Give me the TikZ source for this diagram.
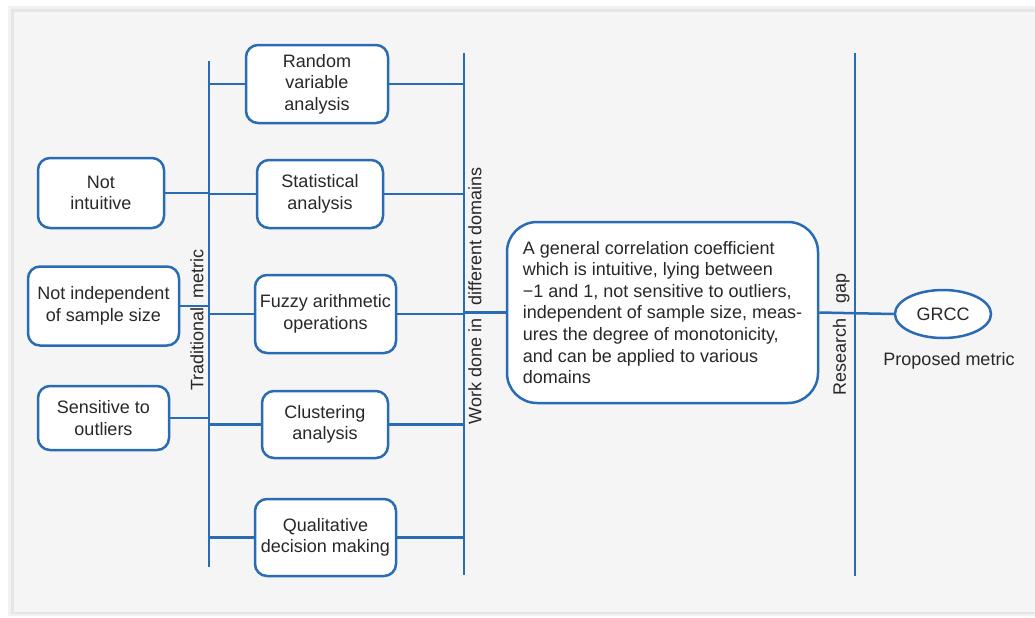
\documentclass[tikz,border=0pt]{standalone}
\usepackage{fontspec}
\setmainfont{Liberation Sans}
\usepackage{tikz}
\usetikzlibrary{positioning, shapes.geometric}
\definecolor{lineblue}{RGB}{42,108,180}
\definecolor{panelgray}{RGB}{245,245,245}
\definecolor{textgray}{RGB}{40,40,40}
\tikzstyle{every node}=[font=\fontsize{9}{10.8}\selectfont, text=textgray]
\tikzstyle{block}=[draw=lineblue, fill=white, rectangle, rounded corners=6pt, line width=1.25pt, align=center, inner sep=1pt]
\tikzstyle{bar}=[draw=lineblue, line width=1.25pt]
\tikzstyle{vlabel}=[rotate=90, inner sep=1pt]

\begin{document}
\begin{tikzpicture}[x=0.5pt, y=-0.5pt]
            % panel with soft edge
            \useasboundingbox (0,0) rectangle (1035,617);
            \fill[white] (0,0) rectangle (1035,617);
            \fill[black!5] (8,6) rectangle (1035,616);
            \fill[black!10] (11,9) rectangle (1035,614);
            \fill[panelgray] (14,12) rectangle (1035,612);

            % the three bars
            \coordinate (tradtop) at (209,61);
            \coordinate (tradbot) at (209,567);
            \coordinate (worktop) at (464,53);
            \coordinate (workbot) at (464,575);
            \coordinate (gaptop) at (855,53);
            \coordinate (gapbot) at (855,576);
            \draw[bar] (tradtop) -- (tradbot);
            \draw[bar] (worktop) -- (workbot);
            \draw[bar] (gaptop) -- (gapbot);
            \node[vlabel, anchor=south] (trad) at (206,320) {Traditional\hspace{2pt} metric};
            \node[vlabel, anchor=north] (work) at (466,296) {Work done in\hspace{4pt} different domains};
            \node[vlabel, anchor=south] (gap) at (852,334) {Research\hspace{5pt} gap};

            % methods
            \node[block, minimum width=71pt, minimum height=39pt] (rva) at (317,84) {Random\\variable\\analysis};
            \node[block, minimum width=63pt, minimum height=34pt] (sta) at (320,194) {Statistical\\analysis};
            \node[block, minimum width=70.5pt, minimum height=39pt] (fao) at (325.5,314) {Fuzzy arithmetic\\operations};
            \node[block, minimum width=63pt, minimum height=33.5pt] (cla) at (325,424.5) {Clustering\\analysis};
            \node[block, minimum width=70.5pt, minimum height=38.5pt] (qdm) at (325.5,537.5) {Qualitative\\decision making};

            % drawbacks
            \node[block, minimum width=63pt, minimum height=35pt] (nin) at (101,193) {Not\\intuitive};
            \node[block, minimum width=75.5pt, minimum height=39.5pt] (nis) at (103.5,306) {Not independent\\of sample size};
            \node[block, minimum width=65.5pt, minimum height=32pt] (sto) at (103.5,418) {Sensitive to\\outliers};

            % gap and proposal
            \node[block, rounded corners=15pt, minimum width=155.5pt, minimum height=90.5pt, align=left] (gc) at (662.5,312.5) {A general correlation coefficient\\which is intuitive, lying between\\−1 and 1, not sensitive to outliers,\\independent of sample size, meas-\\ures the degree of monotonicity,\\and can be applied to various\\domains};
            \node[ellipse, draw=lineblue, fill=white, line width=1.25pt, minimum width=48pt, minimum height=24pt, inner sep=0pt] (grcc) at (943,314) {GRCC};
            \node[below=3pt of grcc, xshift=3pt] (pm) {Proposed metric};

            \draw[bar] (nin.east) -- (nin.east -| tradtop);
            \draw[bar] (nis.east) -- (nis.east -| tradtop);
            \draw[bar] (sto.east) -- (sto.east -| tradtop);
            \draw[bar] (rva.west -| tradtop) -- (rva.west);
            \draw[bar] (sta.west -| tradtop) -- (sta.west);
            \draw[bar] (fao.west -| tradtop) -- (fao.west);
            \draw[bar] (cla.west -| tradtop) -- (cla.west);
            \draw[bar] (qdm.west -| tradtop) -- (qdm.west);
            \draw[bar] (rva.east) -- (rva.east -| worktop);
            \draw[bar] (sta.east) -- (sta.east -| worktop);
            \draw[bar] (fao.east) -- (fao.east -| worktop);
            \draw[bar] (cla.east) -- (cla.east -| worktop);
            \draw[bar] (qdm.east) -- (qdm.east -| worktop);
            \draw[bar] (gc.west -| worktop) -- (gc.west);
            \draw[bar] (gc.east) -- (grcc.west);
        \end{tikzpicture}
\end{document}
